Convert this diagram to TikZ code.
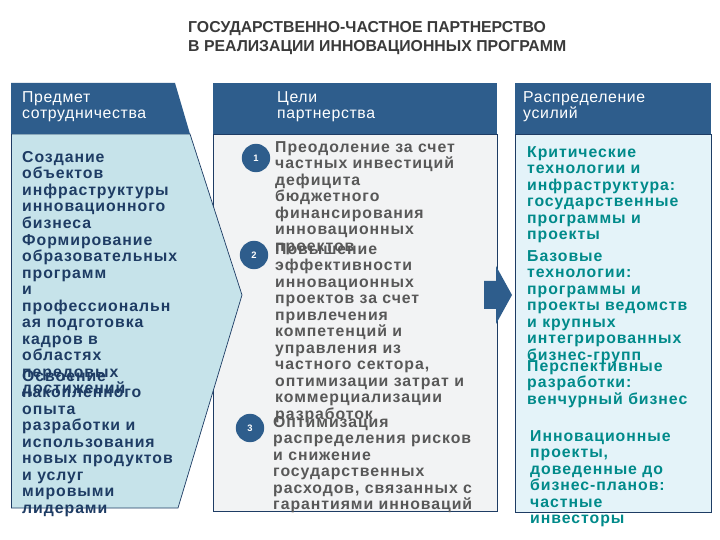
\documentclass[tikz,border=0pt]{standalone}
\usepackage{fontspec}
\setmainfont{Liberation Sans}
\definecolor{hdr}{HTML}{2E5D8C}
\definecolor{lbody}{HTML}{C6E3EA}
\definecolor{mbody}{HTML}{F2F3F4}
\definecolor{rbody}{HTML}{E4F3F9}
\definecolor{ltext}{HTML}{1E3C64}
\definecolor{mtext}{HTML}{585858}
\definecolor{rtext}{HTML}{008A8A}
\definecolor{ttext}{HTML}{3A3A3A}
\begin{document}
\begin{tikzpicture}[x=0.03cm,y=-0.03cm,
  body/.style={font=\fontsize{13.5}{14.1}\selectfont\bfseries\addfontfeature{LetterSpace=6}, align=left, anchor=north west, inner sep=0pt},
  hdrtext/.style={font=\fontsize{13.5}{14}\selectfont\addfontfeature{LetterSpace=4}, text=white, align=left, anchor=north west, inner sep=0pt},
  num/.style={circle, fill=hdr, text=white, inner sep=0pt, font=\fontsize{8}{9}\selectfont\bfseries, minimum size=0.85cm},
  frame/.style={draw=ltext, line width=0.6pt}]
\useasboundingbox (0,0) rectangle (720,540);
\fill[white] (0,0) rectangle (720,540);
% title
\node[anchor=north west, inner sep=0pt, align=left, text=ttext, font=\fontsize{13.5}{16}\selectfont\bfseries] (title) at (188,21) {ГОСУДАРСТВЕННО-ЧАСТНОЕ ПАРТНЕРСТВО\\В РЕАЛИЗАЦИИ ИННОВАЦИОННЫХ ПРОГРАММ};
% middle column
\fill[mbody] (213,134) rectangle (497,511);
\draw[frame] (213,134) rectangle (497,511);
\fill[hdr] (213,83) rectangle (497,134);
\node[hdrtext] (mh) at (277,91) {Цели\\партнерства};
% left column (drawn over middle)
\fill[lbody] (11,134) -- (190,134) -- (242,295) -- (178,508) -- (11,508) -- cycle;
\draw[frame] (11,134) -- (190,134) -- (242,295) -- (178,508) -- (11,508);
\draw[frame] (11,508) -- (11,134);
\fill[hdr] (11,83) -- (175,83) -- (190,134) -- (11,134) -- cycle;
\node[hdrtext] (lh) at (22,91) {Предмет\\сотрудничества};
\node[body, text=ltext] (l1) at (22,151) {Создание\\объектов\\инфраструктуры\\инновационного\\бизнеса};
\node[body, text=ltext] (l2) at (22,234) {Формирование\\образовательных\\программ\\и\\профессиональн\\ая подготовка\\кадров в\\областях\\передовых\\достижений};
\node[body, text=ltext] (l3) at (22,370) {Освоение\\накопленного\\опыта\\разработки и\\использования\\новых продуктов\\и услуг\\мировыми\\лидерами};
% middle items
\node[num] (n1) at (256,158) {1};
\node[num] (n2) at (254,255) {2};
\node[num] (n3) at (250,428) {3};
\node[body, text=mtext] (m1) at (275,141) {Преодоление за счет\\частных инвестиций\\дефицита\\бюджетного\\финансирования\\инновационных\\проектов};
\node[body, text=mtext] (m2) at (275,243) {Повышение\\эффективности\\инновационных\\проектов за счет\\привлечения\\компетенций и\\управления из\\частного сектора,\\оптимизации затрат и\\коммерциализации\\разработок};
\node[body, text=mtext] (m3) at (273,416) {Оптимизация\\распределения рисков\\и снижение\\государственных\\расходов, связанных с\\гарантиями инноваций};
% arrow
\fill[hdr] (484,281) -- (496,281) -- (496,266) -- (512,295) -- (496,324) -- (496,309) -- (484,309) -- cycle;
% right column
\fill[rbody] (515,134) rectangle (711,512);
\draw[frame] (515,134) rectangle (711,512);
\fill[hdr] (515,83) rectangle (711,134);
\node[hdrtext] (rh) at (523,91) {Распределение\\усилий};
\node[body, text=rtext] (r1) at (527,146) {Критические\\технологии и\\инфраструктура:\\государственные\\программы и\\проекты};
\node[body, text=rtext] (r2) at (527,250) {Базовые\\технологии:\\программы и\\проекты ведомств\\и крупных\\интегрированных\\бизнес-групп};
\node[body, text=rtext] (r3) at (527,360) {Перспективные\\разработки:\\венчурный бизнес};
\node[body, text=rtext] (r4) at (530,430) {Инновационные\\проекты,\\доведенные до\\бизнес-планов:\\частные\\инвесторы};
\end{tikzpicture}
\end{document}
